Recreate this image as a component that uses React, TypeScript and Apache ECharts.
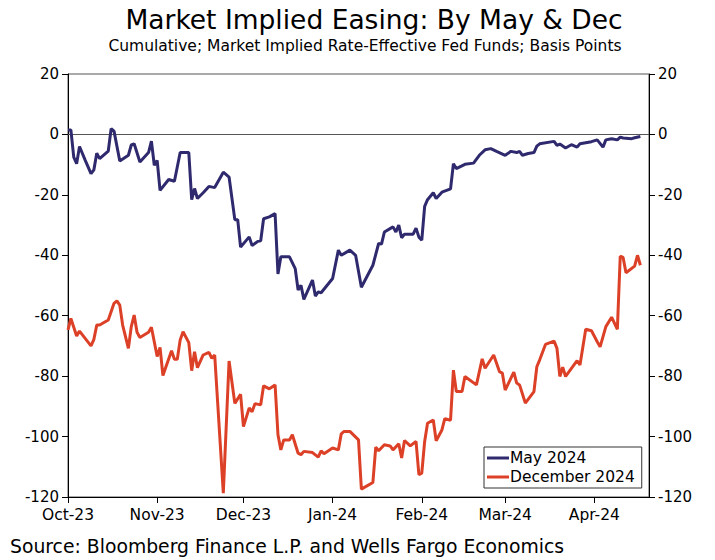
import React, { useEffect, useRef } from "react";
import * as echarts from "echarts";

const TITLE = "Market Implied Easing: By May & Dec";
const SUBTITLE = "Cumulative; Market Implied Rate-Effective Fed Funds; Basis Points";
const SOURCE = "Source: Bloomberg Finance L.P. and Wells Fargo Economics";
const SERIES_NAMES = ["May 2024", "December 2024"];
const MONTHS = ["Jan", "Feb", "Mar", "Apr", "May", "Jun", "Jul", "Aug", "Sep", "Oct", "Nov", "Dec"];
const X_MIN = "2023-10-01";
const X_MAX = "2024-04-20";
const Y_MIN = -120;
const Y_MAX = 20;
const Y_STEP = 20;

const mayDates = [
  "2023-10-01", "2023-10-02", "2023-10-03", "2023-10-04", "2023-10-05", "2023-10-07", "2023-10-09", "2023-10-10",
  "2023-10-11", "2023-10-12", "2023-10-15", "2023-10-16", "2023-10-17", "2023-10-19", "2023-10-22", "2023-10-23",
  "2023-10-24", "2023-10-26", "2023-10-29", "2023-10-30", "2023-10-31", "2023-11-01", "2023-11-02", "2023-11-05",
  "2023-11-07", "2023-11-09", "2023-11-12", "2023-11-13", "2023-11-14", "2023-11-15", "2023-11-17", "2023-11-19",
  "2023-11-21", "2023-11-24", "2023-11-26", "2023-11-28", "2023-11-29", "2023-11-30", "2023-12-03", "2023-12-04",
  "2023-12-06", "2023-12-07", "2023-12-08", "2023-12-10", "2023-12-12", "2023-12-13", "2023-12-14", "2023-12-17",
  "2023-12-19", "2023-12-20", "2023-12-21", "2023-12-22", "2023-12-25", "2023-12-26", "2023-12-27", "2023-12-28",
  "2024-01-01", "2024-01-03", "2024-01-04", "2024-01-07", "2024-01-09", "2024-01-11", "2024-01-15", "2024-01-17",
  "2024-01-18", "2024-01-19", "2024-01-22", "2024-01-23", "2024-01-24", "2024-01-25", "2024-01-26", "2024-01-29",
  "2024-01-30", "2024-01-31", "2024-02-01", "2024-02-02", "2024-02-03", "2024-02-05", "2024-02-06", "2024-02-08",
  "2024-02-11", "2024-02-12", "2024-02-13", "2024-02-16", "2024-02-19", "2024-02-21", "2024-02-23", "2024-02-25",
  "2024-02-27", "2024-03-01", "2024-03-03", "2024-03-05", "2024-03-06", "2024-03-07", "2024-03-09", "2024-03-11",
  "2024-03-12", "2024-03-13", "2024-03-18", "2024-03-19", "2024-03-20", "2024-03-22", "2024-03-24", "2024-03-26",
  "2024-03-27", "2024-03-31", "2024-04-02", "2024-04-04", "2024-04-05", "2024-04-07", "2024-04-09", "2024-04-10",
  "2024-04-11", "2024-04-14", "2024-04-15", "2024-04-17",
];
const mayValues = [
  1.5, 1.5, -7.5, -9.7, -4, -8.6, -13, -11.7,
  -6.2, -8, -5.5, 1.9, 1.1, -8.8, -6.9, -3.5,
  -3.1, -9.1, -6, -2.2, -10.2, -8.6, -18.5, -14.9,
  -15.5, -6, -6, -21.6, -17.9, -21.2, -19.3, -17.2,
  -17.6, -12.5, -14.1, -28.2, -28.2, -37.3, -33.9, -36.8,
  -35.4, -35.2, -27.9, -27.3, -26.2, -46.2, -40.5, -40.5,
  -44.4, -51.5, -49.9, -54.6, -48.2, -53.5, -52.1, -52.4,
  -47.7, -38.3, -40, -38.3, -40, -50.6, -43.3, -36.1,
  -36.3, -32.3, -30.6, -32.3, -30, -34.2, -33, -33,
  -31, -34, -35, -23.8, -21.6, -19.3, -21.2, -19.1,
  -18, -9.7, -11.3, -9.9, -9.5, -6.9, -5.1, -4.7,
  -5.6, -6.9, -5.6, -6, -5.6, -6.9, -6.3, -6,
  -3.9, -3.1, -2.3, -3.6, -3.2, -4.5, -3.4, -4.2,
  -3.1, -2.4, -1.8, -4.2, -1.8, -1.4, -1.8, -0.9,
  -1.2, -1.4, -1.1, -0.7,
];

const decDates = [
  "2023-10-01", "2023-10-02", "2023-10-04", "2023-10-05", "2023-10-09", "2023-10-10", "2023-10-11", "2023-10-12",
  "2023-10-15", "2023-10-17", "2023-10-18", "2023-10-19", "2023-10-20", "2023-10-22", "2023-10-23", "2023-10-24",
  "2023-10-25", "2023-10-26", "2023-10-29", "2023-10-30", "2023-11-01", "2023-11-02", "2023-11-03", "2023-11-06",
  "2023-11-07", "2023-11-08", "2023-11-09", "2023-11-10", "2023-11-12", "2023-11-13", "2023-11-14", "2023-11-15",
  "2023-11-17", "2023-11-19", "2023-11-20", "2023-11-21", "2023-11-24", "2023-11-26", "2023-11-28", "2023-11-30",
  "2023-12-01", "2023-12-03", "2023-12-04", "2023-12-05", "2023-12-07", "2023-12-08", "2023-12-10", "2023-12-12",
  "2023-12-13", "2023-12-14", "2023-12-15", "2023-12-17", "2023-12-18", "2023-12-20", "2023-12-21", "2023-12-22",
  "2023-12-25", "2023-12-27", "2023-12-28", "2023-12-29", "2024-01-01", "2024-01-03", "2024-01-04", "2024-01-05",
  "2024-01-07", "2024-01-10", "2024-01-11", "2024-01-15", "2024-01-16", "2024-01-17", "2024-01-19", "2024-01-21",
  "2024-01-22", "2024-01-24", "2024-01-25", "2024-01-26", "2024-01-28", "2024-01-30", "2024-01-31", "2024-02-01",
  "2024-02-02", "2024-02-03", "2024-02-05", "2024-02-06", "2024-02-08", "2024-02-09", "2024-02-11", "2024-02-12",
  "2024-02-13", "2024-02-15", "2024-02-16", "2024-02-20", "2024-02-22", "2024-02-23", "2024-02-26", "2024-02-28",
  "2024-02-29", "2024-03-01", "2024-03-04", "2024-03-05", "2024-03-06", "2024-03-08", "2024-03-11", "2024-03-12",
  "2024-03-13", "2024-03-15", "2024-03-18", "2024-03-19", "2024-03-20", "2024-03-21", "2024-03-22", "2024-03-26",
  "2024-03-27", "2024-03-29", "2024-03-31", "2024-04-02", "2024-04-03", "2024-04-05", "2024-04-07", "2024-04-09",
  "2024-04-10", "2024-04-11", "2024-04-12", "2024-04-15", "2024-04-16", "2024-04-17",
];
const decValues = [
  -64.7, -60.9, -66.7, -65.1, -70, -67.8, -63.1, -63.1,
  -61.4, -55.9, -55.1, -56.5, -63.1, -70.8, -63.6, -59.8,
  -65.5, -67.2, -65.5, -63.8, -73.5, -70.5, -79.8, -71.6,
  -74.4, -74.4, -68, -65.3, -68.9, -78.2, -71.9, -77.2,
  -73, -72.1, -74.1, -73, -118.7, -75, -89, -86,
  -96.7, -90.5, -91.8, -89.1, -89.5, -83.2, -84.2, -82.9,
  -99.4, -104.4, -101.1, -101.1, -99.4, -105.5, -106, -104.9,
  -105.3, -106.8, -104.7, -105.7, -103.8, -104.4, -99.1, -98.3,
  -98.3, -101.1, -117.4, -115.2, -103.5, -104.7, -102.7, -103.1,
  -104.4, -102.4, -107.1, -101.3, -103.1, -101.6, -112.6, -112.1,
  -101.6, -95.6, -94.5, -101.4, -97.8, -94.1, -94.6, -78,
  -85.1, -85.1, -80.1, -82.9, -74.3, -77.4, -73, -78.5,
  -79, -84.6, -78.7, -82.3, -82.9, -88.9, -85.1, -76.9,
  -74.6, -69.5, -68.4, -70.8, -80.1, -77, -80.1, -74.9,
  -76.3, -64.5, -65, -68.6, -70.3, -63.6, -60.5, -64.5,
  -40.3, -40.7, -45.8, -43.6, -40, -43.3,
];

const COLORS = ["#2f2a6e", "#dc4128"];
const FONT = "DejaVu Sans";

function pairs(dates: string[], values: number[]) {
  return dates.map((d, i) => [d, values[i]]);
}

function monthLabel(v: number) {
  const d = new Date(v);
  if (d.getDate() !== 1) return "";
  return MONTHS[d.getMonth()] + "-" + String(d.getFullYear()).slice(2);
}

export default function App() {
  const ref = useRef<HTMLDivElement>(null);
  useEffect(() => {
    if (!ref.current) return;
    const chart = echarts.init(ref.current, null, { renderer: "svg" });
    const yAxisBase = {
      type: "value",
      min: Y_MIN,
      max: Y_MAX,
      interval: Y_STEP,
      axisLine: { show: true, lineStyle: { color: "#000", width: 1 } },
      axisTick: { show: true, inside: false, length: 6, lineStyle: { color: "#000" } },
      splitLine: { show: false },
      axisLabel: { color: "#000", fontSize: 15, fontFamily: FONT, margin: 9 },
    };
    chart.setOption({
      animation: false,
      textStyle: { fontFamily: FONT },
      title: [
        {
          text: TITLE,
          left: 369,
          top: 1,
          textAlign: "center",
          textStyle: { fontSize: 26.5, fontWeight: "normal", color: "#000", fontFamily: FONT },
        },
        {
          text: SUBTITLE,
          left: 360,
          top: 33,
          textAlign: "center",
          textStyle: { fontSize: 15.5, fontWeight: "normal", color: "#000", fontFamily: FONT },
        },
      ],
      graphic: [
        {
          type: "text",
          left: 10,
          top: 537,
          style: { text: SOURCE, fontSize: 18.8, fill: "#000", fontFamily: FONT },
        },
      ],
      legend: {
        orient: "vertical",
        left: 484,
        top: 447,
        padding: [3, 7, 3, 3],
        itemGap: 3,
        itemWidth: 22,
        itemHeight: 3,
        icon: "rect",
        borderColor: "#333",
        borderWidth: 1,
        backgroundColor: "#fff",
        textStyle: { fontSize: 15.5, color: "#000", fontFamily: FONT, padding: [0, 0, 0, -4] },
        data: SERIES_NAMES,
      },
      grid: {
        left: 68,
        right: 66,
        top: 74,
        bottom: 63,
        show: true,
        borderColor: "#555",
        borderWidth: 1,
      },
      xAxis: {
        type: "time",
        min: X_MIN,
        max: X_MAX,
        minInterval: 28 * 86400000,
        maxInterval: 31 * 86400000,
        axisLine: { show: true, onZero: false, lineStyle: { color: "#000", width: 1 } },
        axisTick: { show: true, length: 6, lineStyle: { color: "#000" } },
        minorTick: { show: false },
        splitLine: { show: false },
        axisLabel: {
          color: "#000",
          fontSize: 15.5,
          fontFamily: FONT,
          margin: 10,
          formatter: monthLabel,
          showMinLabel: true,
          showMaxLabel: false,
          hideOverlap: false,
        },
      },
      yAxis: [
        { ...yAxisBase, position: "left" },
        { ...yAxisBase, position: "right" },
      ],
      series: [
        {
          name: SERIES_NAMES[0],
          type: "line",
          data: pairs(mayDates, mayValues),
          showSymbol: false,
          lineStyle: { color: COLORS[0], width: 3 },
          itemStyle: { color: COLORS[0] },
          z: 3,
          markLine: {
            silent: true,
            symbol: "none",
            label: { show: false },
            lineStyle: { color: "#555", width: 1, type: "solid" },
            data: [{ yAxis: 0 }],
            z: 1,
          },
        },
        {
          name: SERIES_NAMES[1],
          type: "line",
          data: pairs(decDates, decValues),
          showSymbol: false,
          lineStyle: { color: COLORS[1], width: 3 },
          itemStyle: { color: COLORS[1] },
          z: 3,
        },
      ],
    });
    return () => chart.dispose();
  }, []);
  return <div ref={ref} style={{ width: 715, height: 560, position: "absolute", left: 0, top: 0 }} />;
}
